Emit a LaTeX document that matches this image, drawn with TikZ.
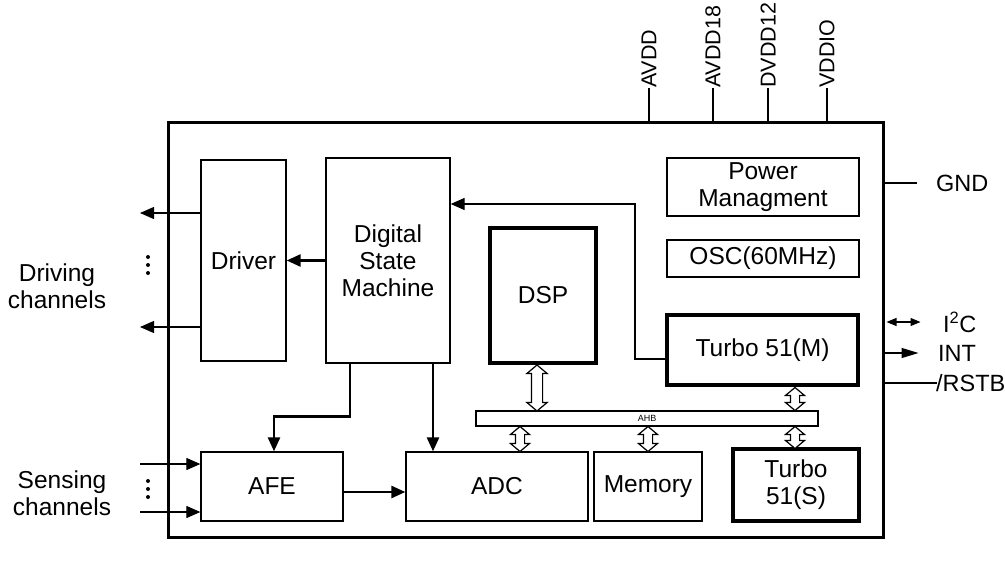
\documentclass[tikz,border=0pt]{standalone}
\usepackage{fontspec}
\setmainfont{Liberation Sans}
\usetikzlibrary{arrows.meta,shapes.arrows,calc}
\begin{document}
\begin{tikzpicture}[x=1pt,y=-1pt,
  every node/.style={font=\fontsize{24.5pt}{27pt}\selectfont},
  blk/.style={draw, line width=1.3pt, inner sep=0pt, align=center},
  tblk/.style={draw, line width=4pt, inner sep=0pt, align=center},
  thinln/.style={line width=1.2pt},
  thkln/.style={line width=2.6pt},
  tri/.style={-{Triangle[length=14pt,width=12pt]}},
  hol/.style={double arrow, draw, fill=white, line width=1.2pt, rotate=90,
    inner xsep=0pt, inner ysep=4pt, double arrow head extend=5pt, double arrow tip angle=100},
  pin/.style={rotate=90, anchor=west, inner sep=0pt, font=\fontsize{21.5pt}{25pt}\selectfont},
  rlab/.style={anchor=west, inner sep=0pt, font=\fontsize{23.5pt}{27pt}\selectfont},
]
\useasboundingbox (0,0) rectangle (1005,570);

% chip outline
\node[draw, line width=3pt, minimum width=715pt, minimum height=415pt, inner sep=0pt] (chip) at (525.5,329.5) {};

% blocks
\node[blk, minimum width=85pt, minimum height=201pt] (driver) at (243.5,260.5) {Driver};
\node[blk, minimum width=124pt, minimum height=205pt] (dsm) at (388,260.5) {Digital\\State\\Machine};
\node[tblk, minimum width=106pt, minimum height=135pt] (dsp) at (543,295.5) {DSP};
\node[blk, minimum width=192pt, minimum height=58pt] (pm) at (763,187) {Power\\Managment};
\node[blk, minimum width=192pt, minimum height=37pt] (osc) at (763,258.5) {OSC(60MHz)};
\node[tblk, minimum width=191pt, minimum height=70pt] (tm) at (762.5,350) {Turbo 51(M)};
\node[blk, line width=1.2pt, minimum width=342pt, minimum height=15pt, font=\fontsize{9pt}{10pt}\selectfont] (ahb) at (647,418.5) {AHB};
\node[blk, minimum width=142pt, minimum height=69pt] (afe) at (272,486.5) {AFE};
\node[blk, minimum width=182pt, minimum height=69pt] (adc) at (497,486.5) {ADC};
\node[blk, minimum width=108pt, minimum height=69pt] (mem) at (648,486.5) {Memory};
\node[tblk, minimum width=126pt, minimum height=72pt] (ts) at (796,485) {Turbo\\51(S)};

% hollow bus arrows
\node[hol, inner ysep=5pt, double arrow head extend=4.5pt, minimum height=46pt] (h1) at (537,388) {};
\node[hol, minimum height=23pt] (h2) at (795,399) {};
\node[hol, minimum height=22pt] (h3) at (795,437.5) {};
\node[hol, minimum height=25pt] (h4) at (520,439) {};
\node[hol, minimum height=25pt] (h5) at (648,439) {};

% internal connectors
\draw[thinln, tri] ([yshift=-9pt]tm.west) -- ++(-30,0) |- ([yshift=56.5pt]dsm.east);
\draw[thkln, tri] (dsm.west) -- (driver.east);
\draw[thkln, tri] ([xshift=-38pt]dsm.south) -- ++(0,53) -| ([xshift=2pt]afe.north);
\draw[thkln, tri] ([xshift=45pt]dsm.south) -- ([xshift=45pt]dsm.south |- adc.north);
\draw[thkln, tri] ([yshift=-5.5pt]afe.east) -- ([yshift=-5.5pt]adc.west);

% driving channels
\coordinate (d1) at (140,213);
\coordinate (d2) at (140,327);
\draw[thinln, tri] ([yshift=47.5pt]driver.west) -- (d1);
\draw[thinln, tri] ([yshift=-66.5pt]driver.west) -- (d2);
\fill (148,257) circle (2pt) (148,265) circle (2pt) (148,273) circle (2pt);
\node[align=center] (drvlab) at (57,286) {Driving\\channels};

% sensing channels
\coordinate (s1) at (140,464);
\coordinate (s2) at (140,512);
\draw[thinln, tri] (s1) -- ([yshift=22.5pt]afe.west);
\draw[thinln, tri] (s2) -- ([yshift=-25.5pt]afe.west);
\fill (148,481) circle (2pt) (148,489) circle (2pt) (148,497) circle (2pt);
\node[align=center] (senlab) at (62,493) {Sensing\\channels};

% top pins
\node[pin] (avdd) at (649,88) {AVDD};
\node[pin] (avdd18) at (713,88) {AVDD18};
\node[pin] (dvdd12) at (768,88) {DVDD12};
\node[pin] (vddio) at (827,88) {VDDIO};
\foreach \p in {avdd,avdd18,dvdd12,vddio}
  \draw[thinln] (\p.west) -- (\p.west |- chip.north);

% right pins
\node[rlab] (gnd) at (936,183) {GND};
\node[rlab] (i2c) at (943,322) {I\textsuperscript{2}C};
\node[rlab] (int) at (938,353) {INT};
\node[rlab] (rstb) at (936,383) {/RSTB};
\draw[thinln] (chip.east |- gnd.west) -- ++(32,0);
\draw[thinln, {Triangle[length=10pt,width=8pt]}-{Triangle[length=10pt,width=8pt]}] ([xshift=2pt]chip.east |- i2c.west) -- ++(34,0);
\draw[thinln, -{Triangle[length=17pt,width=10pt]}] (chip.east |- int.west) -- ++(34,0);
\draw[thinln] (chip.east |- rstb.west) -- ++(52,0);
\end{tikzpicture}
\end{document}
